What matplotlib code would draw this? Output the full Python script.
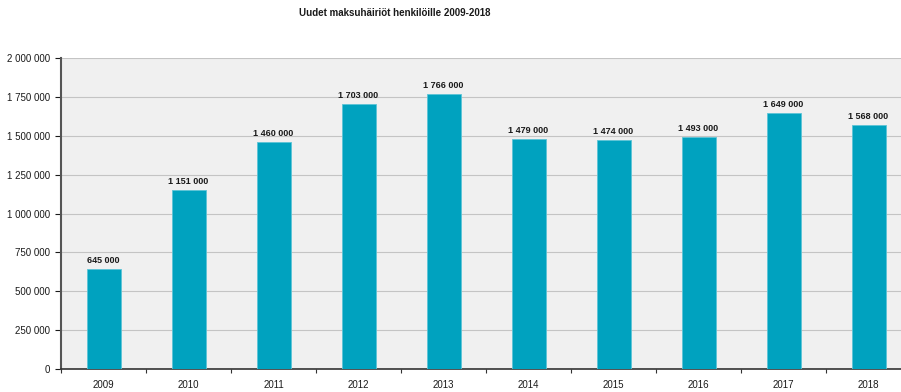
import matplotlib
matplotlib.use("Agg")
import matplotlib.pyplot as plt
import numpy as np
from matplotlib.ticker import FuncFormatter, FixedLocator

# Data
years = ['2009', '2010', '2011', '2012', '2013', '2014', '2015', '2016', '2017', '2018']
values = [645000, 1151000, 1460000, 1703000, 1766000, 1479000, 1474000, 1493000, 1649000, 1568000]
yticks = [0, 250000, 500000, 750000, 1000000, 1250000, 1500000, 1750000, 2000000]

def fmt(v, pos=None):
    return '{:,.0f}'.format(v).replace(',', ' ')

plt.rcParams['font.family'] = ['Liberation Sans', 'DejaVu Sans']

fig = plt.figure(figsize=(9.01, 3.92), dpi=100)
ax = fig.add_axes([61/901, 1-369/392, 850/901, (369-58)/392])
ax.set_facecolor('#f0f0f0')

x = np.arange(len(years))
ax.bar(x, values, width=0.4, color='#00a2bf', edgecolor='#5cc4d6', linewidth=0.6, zorder=3)
for xi, v in zip(x, values):
    ax.text(xi, v + 25000, fmt(v), ha='center', va='bottom', fontsize=6.5, fontweight='bold', color='#1a1a1a', zorder=4)

ax.set_xlim(-0.5, len(years) - 0.5)
ax.set_ylim(0, 2000000)
ax.set_yticks(yticks)
ax.yaxis.set_major_formatter(FuncFormatter(fmt))
ax.set_xticks(x)
ax.set_xticklabels(years)
ax.xaxis.set_minor_locator(FixedLocator(np.arange(-0.5, len(years), 1.0)))
ax.tick_params(axis='x', which='major', length=0, labelsize=7, pad=8, colors='#1a1a1a')
ax.tick_params(axis='x', which='minor', length=3, width=0.8, direction='out', color='#333333')
ax.tick_params(axis='y', length=4, width=0.8, labelsize=7, colors='#1a1a1a', pad=4)
ax.grid(axis='y', color='#c4c4c4', linewidth=0.8, zorder=0)
ax.set_axisbelow(True)

for s in ['top', 'right']:
    ax.spines[s].set_visible(False)
ax.spines['left'].set_color('#555555')
ax.spines['left'].set_linewidth(1.5)
ax.spines['bottom'].set_color('#333333')
ax.spines['bottom'].set_linewidth(1.2)

fig.text(395/901, 1-13/392, 'Uudet maksuhäiriöt henkilöille 2009-2018', ha='center', va='center',
         fontsize=7, fontweight='bold', color='#1a1a1a')

fig.savefig('out.png', dpi=100)
